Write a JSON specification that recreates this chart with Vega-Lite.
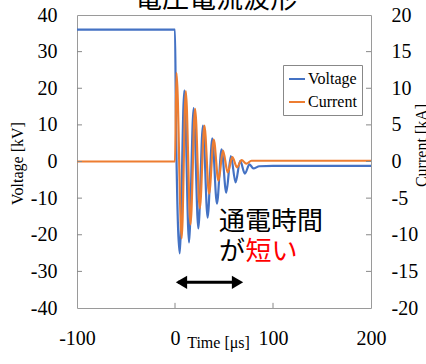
{
  "$schema": "https://vega.github.io/schema/vega-lite/v6.json",
  "width": 294,
  "height": 293,
  "autosize": "none",
  "padding": {"left": 77, "top": 15, "right": 55, "bottom": 56},
  "background": "white",
  "config": {
    "view": {"stroke": "#9a9a9a", "strokeWidth": 1},
    "axis": {"domain": false, "grid": false, "ticks": false, "labelPadding": 20, "labelFont": "Liberation Serif", "labelFontSize": 20, "labelColor": "black", "titleFont": "Liberation Serif", "titleFontSize": 16, "titleFontWeight": "normal", "titleColor": "black", "labelFlush": false, "labelOverlap": false, "labelBound": false}
  },
  "datasets": {
    "voltage": [
      {"t": -100, "v": 36}, {"t": 0, "v": 36}, {"t": 1, "v": 10}, {"t": 4.8, "v": -25.1},
      {"t": 9.5, "v": 19.4}, {"t": 14.3, "v": -22.1}, {"t": 19, "v": 14.6}, {"t": 23.8, "v": -18.3},
      {"t": 28.5, "v": 9.8}, {"t": 33.3, "v": -15.3}, {"t": 38, "v": 6.3}, {"t": 42.8, "v": -11.5},
      {"t": 47.5, "v": 3.3}, {"t": 52.3, "v": -8.5}, {"t": 57, "v": 1.5}, {"t": 61.8, "v": -5.7},
      {"t": 66.5, "v": 0.2}, {"t": 71.3, "v": -3.3}, {"t": 76, "v": -0.8}, {"t": 80, "v": -1.9},
      {"t": 86, "v": -1.3}, {"t": 100, "v": -1.2}, {"t": 200, "v": -1.2}
    ],
    "current": [
      {"t": -100, "v": 0}, {"t": 0, "v": 0}, {"t": 1.5, "v": 12.1}, {"t": 6.8, "v": -10.5},
      {"t": 11, "v": 9.6}, {"t": 15.8, "v": -8.6}, {"t": 20.5, "v": 7.2}, {"t": 25.3, "v": -6.4},
      {"t": 30, "v": 4.9}, {"t": 34.8, "v": -4.4}, {"t": 39.5, "v": 3.0}, {"t": 44.3, "v": -2.6},
      {"t": 49, "v": 1.5}, {"t": 53.8, "v": -1.5}, {"t": 58.5, "v": 0.6}, {"t": 63.3, "v": -0.8},
      {"t": 68, "v": 0.2}, {"t": 72.8, "v": -0.3}, {"t": 78, "v": 0.1}, {"t": 200, "v": 0.1}
    ],
    "yticks": [{"v": -30}, {"v": -20}, {"v": -10}, {"v": 0}, {"v": 10}, {"v": 20}, {"v": 30}],
    "xticks": [{"t": 0}, {"t": 100}],
    "arrow": [{"t0": 3, "t1": 62, "y": -33}],
    "heads": [{"t": 6.6, "y": -33, "dir": "left"}, {"t": 63.8, "y": -33, "dir": "right"}],
    "title": [{"t": 41.8, "y": 42, "txt": "電圧電流波形"}],
    "labels": [{"t": 45, "y": -16.4, "txt": "通電時間"}, {"t": 45, "y": -24.6, "txt": "が"}],
    "red": [{"t": 72, "y": -24.6, "txt": "短い"}]
  },
  "resolve": {"scale": {"y": "independent"}, "axis": {"y": "independent"}},
  "layer": [
    {
      "data": {"name": "voltage"},
      "mark": {"type": "line", "strokeWidth": 2.2, "interpolate": "monotone"},
      "encoding": {
        "x": {"field": "t", "type": "quantitative", "scale": {"domain": [-100, 200], "nice": false}, "axis": {"values": [-100, 0, 100, 200], "title": "Time [μs]", "labelExpr": "replace(datum.label, '−', '-')", "titleX": 141, "titleY": 26, "titleAlign": "center", "titleBaseline": "top", "titleFontSize": 16}},
        "y": {"field": "v", "type": "quantitative", "scale": {"domain": [-40, 40], "nice": false, "zero": false}, "axis": {"orient": "left", "values": [-40, -30, -20, -10, 0, 10, 20, 30, 40], "title": "Voltage [kV]", "labelExpr": "replace(datum.label, '−', '-')", "titleX": -60, "titleY": 148, "titleAngle": 270, "titleAlign": "center", "titleBaseline": "middle", "titleFontSize": 16}},
        "color": {"datum": "Voltage", "scale": {"domain": ["Voltage", "Current"], "range": ["#4472C4", "#ED7D31"]}, "legend": {"title": null, "orient": "none", "legendX": 206, "legendY": 50, "direction": "vertical", "symbolType": "stroke", "symbolSize": 256, "symbolStrokeWidth": 2, "labelFont": "Liberation Serif", "labelFontSize": 16, "labelColor": "black", "labelOffset": 2, "rowPadding": 6, "padding": 5, "strokeColor": "#888", "fillColor": "white"}}
      }
    },
    {
      "data": {"name": "current"},
      "mark": {"type": "line", "strokeWidth": 2.2, "interpolate": "monotone"},
      "encoding": {
        "x": {"field": "t", "type": "quantitative"},
        "y": {"field": "v", "type": "quantitative", "scale": {"domain": [-20, 20], "nice": false, "zero": false}, "axis": {"orient": "right", "values": [-20, -15, -10, -5, 0, 5, 10, 15, 20], "title": "Current [kA]", "labelExpr": "replace(datum.label, '−', '-')", "titleX": 50, "titleY": 130, "titleAngle": 270, "titleAlign": "center", "titleBaseline": "middle", "titleFontSize": 16}},
        "color": {"datum": "Current"}
      }
    },
    {
      "data": {"name": "yticks"},
      "mark": {"type": "rule", "strokeWidth": 1, "color": "#888888"},
      "encoding": {
        "x": {"datum": -100, "type": "quantitative"},
        "x2": {"datum": -94.9},
        "y": {"field": "v", "type": "quantitative", "scale": {"domain": [-40, 40], "nice": false, "zero": false}, "axis": null}
      }
    },
    {
      "data": {"name": "yticks"},
      "mark": {"type": "rule", "strokeWidth": 1, "color": "#888888"},
      "encoding": {
        "x": {"datum": 194.9, "type": "quantitative"},
        "x2": {"datum": 200},
        "y": {"field": "v", "type": "quantitative", "scale": {"domain": [-40, 40], "nice": false, "zero": false}, "axis": null}
      }
    },
    {
      "data": {"name": "xticks"},
      "mark": {"type": "rule", "strokeWidth": 1, "color": "#888888"},
      "encoding": {
        "x": {"field": "t", "type": "quantitative"},
        "y": {"datum": -40, "type": "quantitative", "scale": {"domain": [-40, 40], "nice": false, "zero": false}, "axis": null},
        "y2": {"datum": -38.6}
      }
    },
    {
      "data": {"name": "arrow"},
      "mark": {"type": "rule", "strokeWidth": 3, "color": "black"},
      "encoding": {
        "x": {"field": "t0", "type": "quantitative"},
        "x2": {"field": "t1"},
        "y": {"field": "y", "type": "quantitative", "scale": {"domain": [-40, 40], "nice": false, "zero": false}, "axis": null}
      }
    },
    {
      "data": {"name": "heads"},
      "mark": {"type": "point", "filled": true, "color": "black", "opacity": 1, "size": 170},
      "encoding": {
        "x": {"field": "t", "type": "quantitative"},
        "y": {"field": "y", "type": "quantitative", "scale": {"domain": [-40, 40], "nice": false, "zero": false}, "axis": null},
        "shape": {"field": "dir", "type": "nominal", "scale": {"domain": ["left", "right"], "range": ["triangle-left", "triangle-right"]}, "legend": null}
      }
    },
    {
      "data": {"name": "title"},
      "mark": {"type": "text", "align": "center", "baseline": "alphabetic", "font": "Noto Sans CJK JP", "fontSize": 27, "color": "black", "clip": false},
      "encoding": {
        "x": {"field": "t", "type": "quantitative"},
        "y": {"field": "y", "type": "quantitative", "scale": {"domain": [-40, 40], "nice": false, "zero": false}, "axis": null},
        "text": {"field": "txt"}
      }
    },
    {
      "data": {"name": "labels"},
      "mark": {"type": "text", "align": "left", "baseline": "middle", "font": "Noto Sans CJK JP", "fontSize": 26, "color": "black"},
      "encoding": {
        "x": {"field": "t", "type": "quantitative"},
        "y": {"field": "y", "type": "quantitative", "scale": {"domain": [-40, 40], "nice": false, "zero": false}, "axis": null},
        "text": {"field": "txt"}
      }
    },
    {
      "data": {"name": "red"},
      "mark": {"type": "text", "align": "left", "baseline": "middle", "font": "Noto Sans CJK JP", "fontSize": 26, "color": "#FF0000"},
      "encoding": {
        "x": {"field": "t", "type": "quantitative"},
        "y": {"field": "y", "type": "quantitative", "scale": {"domain": [-40, 40], "nice": false, "zero": false}, "axis": null},
        "text": {"field": "txt"}
      }
    }
  ]
}
